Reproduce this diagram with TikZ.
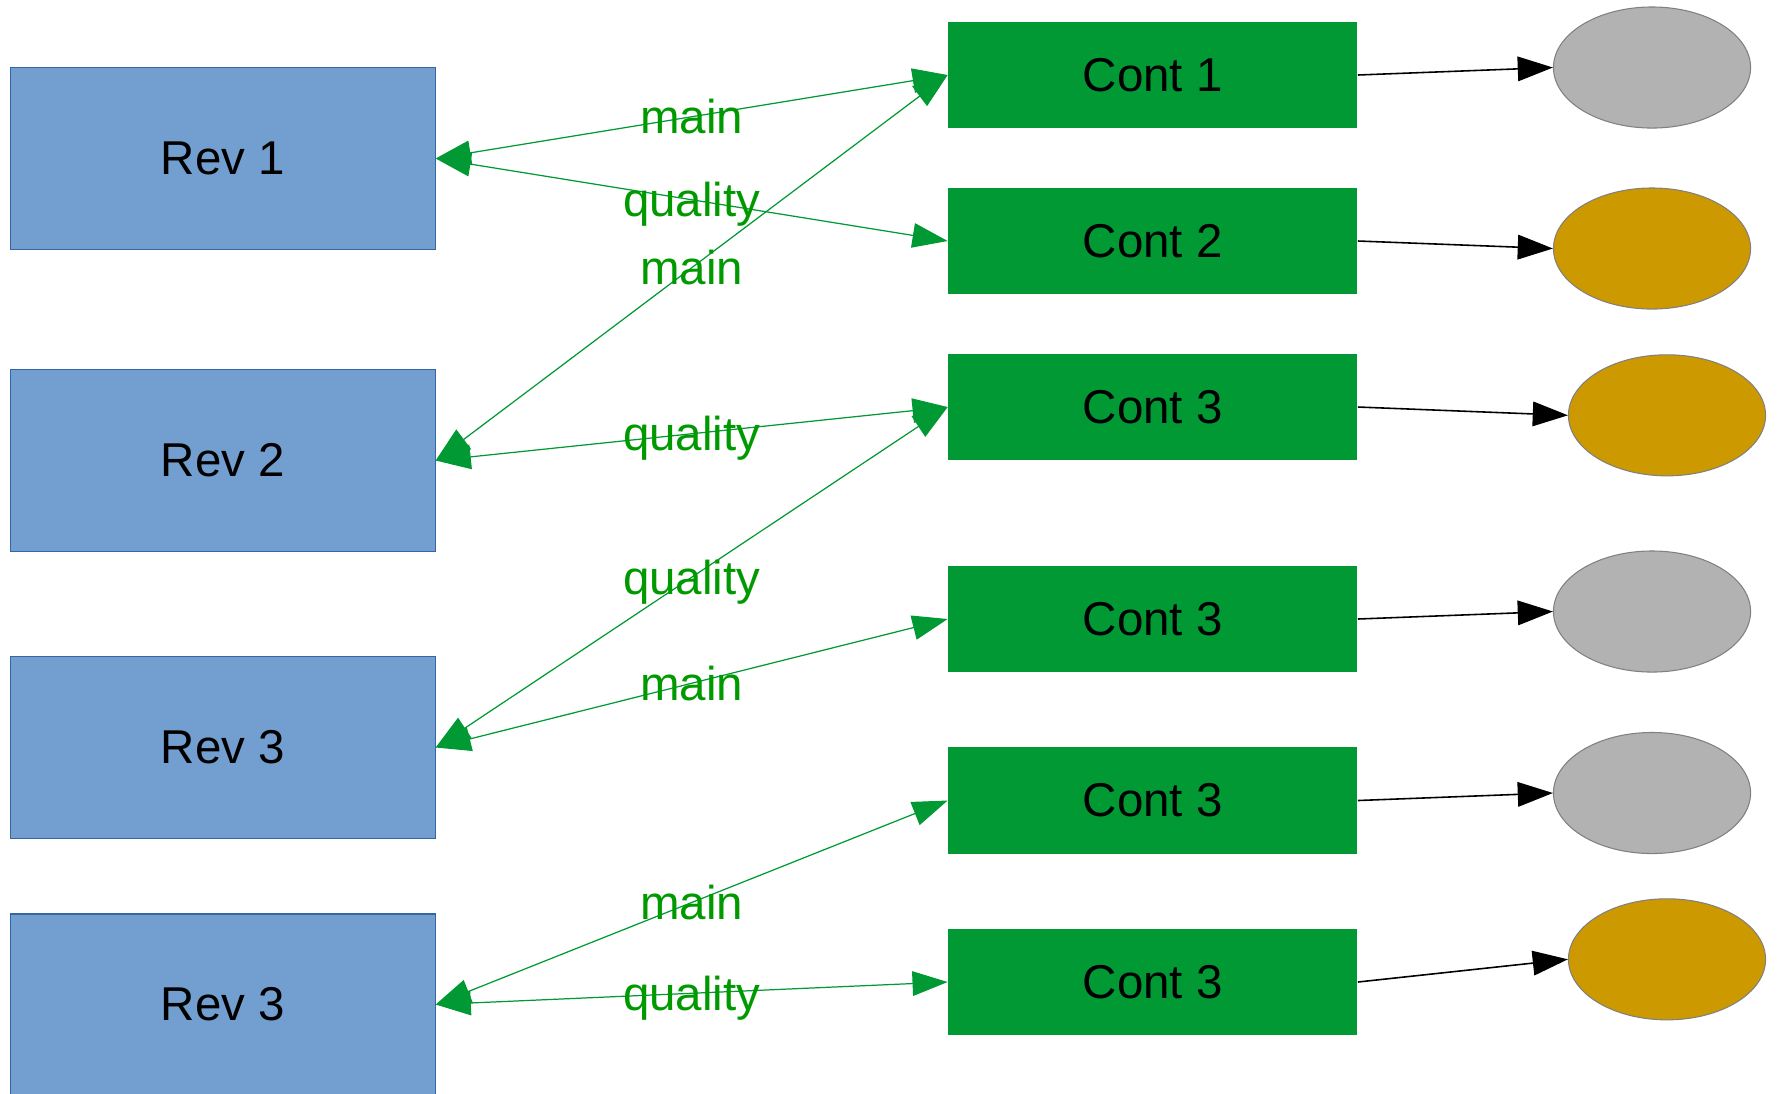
\documentclass[tikz,border=0pt]{standalone}
\usepackage{fontspec}
\setmainfont{Liberation Sans}
\usetikzlibrary{arrows.meta, positioning, shapes.geometric}
\definecolor{revblue}{RGB}{114, 159, 207}
\definecolor{revedge}{RGB}{52, 101, 164}
\definecolor{contgreen}{RGB}{0, 153, 51}
\definecolor{lblgreen}{RGB}{0, 153, 0}
\definecolor{resgray}{RGB}{178, 178, 178}
\definecolor{resedge}{RGB}{128, 128, 128}
\definecolor{resgold}{RGB}{204, 153, 0}

\begin{document}
\begin{tikzpicture}[x=0.01cm, y=-0.01cm, font=\fontsize{13.5}{16}\selectfont,
  revbox/.style={draw=revedge, line width=0.3pt, fill=revblue, minimum width=4.24cm, minimum height=1.81cm, inner sep=0pt},
  contbox/.style={fill=contgreen, minimum width=4.085cm, minimum height=1.06cm, inner sep=0pt},
  resell/.style={ellipse, draw=resedge, line width=0.3pt, fill=#1, minimum width=1.97cm, minimum height=1.21cm, inner sep=0pt},
  link/.style={contgreen, line width=0.35pt, {Triangle[length=10pt, width=7pt]}-{Triangle[length=10pt, width=7pt]}},
  lbl/.style={text=lblgreen, text depth=0pt, midway},
  feed/.style={black, line width=0.45pt, -{Triangle[length=10pt, width=7pt]}}]
  \useasboundingbox (0, 0) rectangle (1779, 1093);

  % Reviewers
  \node[revbox] (rev1) at (223, 158.5) {Rev 1};
  \node[revbox] (rev2) at (223, 460.5) {Rev 2};
  \node[revbox] (rev3) at (223, 747.5) {Rev 3};
  \node[revbox] (rev4) at (223, 1004.5) {Rev 3};

  % Contributions
  \node[contbox] (cont1) at (1152.75, 75) {Cont 1};
  \node[contbox] (cont2) at (1152.75, 241) {Cont 2};
  \node[contbox] (cont3) at (1152.75, 407) {Cont 3};
  \node[contbox] (cont4) at (1152.75, 619) {Cont 3};
  \node[contbox] (cont5) at (1152.75, 800.5) {Cont 3};
  \node[contbox] (cont6) at (1152.75, 982) {Cont 3};

  % Results
  \node[resell=resgray] (res1) at (1652, 67.5) {};
  \node[resell=resgold] (res2) at (1652, 248.5) {};
  \node[resell=resgold] (res3) at (1667, 415.3) {};
  \node[resell=resgray] (res4) at (1652, 611.5) {};
  \node[resell=resgray] (res5) at (1652, 793) {};
  \node[resell=resgold] (res6) at (1667, 959.3) {};

  % Reviewer links
  \draw[link] (rev1.east) -- node[lbl] {main} (cont1.west);
  \draw[link] (rev1.east) -- node[lbl] {quality} (cont2.west);
  \draw[link] (rev2.east) -- node[lbl] {main} (cont1.west);
  \draw[link] (rev2.east) -- node[lbl] {quality} (cont3.west);
  \draw[link] (rev3.east) -- node[lbl] {quality} (cont3.west);
  \draw[link] (rev3.east) -- node[lbl] {main} (cont4.west);
  \draw[link] (rev4.east) -- node[lbl] {main} (cont5.west);
  \draw[link] (rev4.east) -- node[lbl] {quality} (cont6.west);

  % Outcomes
  \draw[feed] (cont1.east) -- (res1.west);
  \draw[feed] (cont2.east) -- (res2.west);
  \draw[feed] (cont3.east) -- (res3.west);
  \draw[feed] (cont4.east) -- (res4.west);
  \draw[feed] (cont5.east) -- (res5.west);
  \draw[feed] (cont6.east) -- (res6.west);
\end{tikzpicture}
\end{document}
